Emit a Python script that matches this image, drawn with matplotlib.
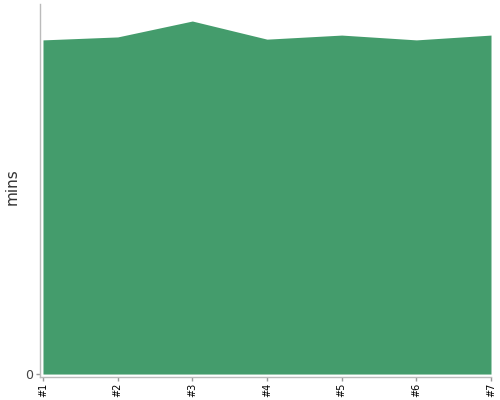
import matplotlib
matplotlib.use("Agg")
import matplotlib.pyplot as plt

labels = ["#1", "#2", "#3", "#4", "#5", "#6", "#7"]
values = [90.3, 91.1, 95.4, 90.5, 91.6, 90.3, 91.6]

fig = plt.figure(figsize=(5, 4), dpi=100)
ax = fig.add_axes([0.08, 0.0575, 0.902, 0.9325])
x = list(range(len(labels)))
ax.fill_between(x, values, 0, color="#449c6c", linewidth=0)
ax.set_xlim(-0.04, len(labels) - 1)
ax.set_ylim(-0.8, 100)
ax.set_xticks(x)
ax.set_xticklabels(labels, rotation=90, fontsize=7)
ax.set_yticks([0])
ax.set_yticklabels(["0"], fontsize=9, color="#444444")
ax.set_ylabel("mins", fontsize=11, color="#333333")
ax.yaxis.set_label_coords(-0.045, 0.51)
for s in ["top", "right"]:
    ax.spines[s].set_visible(False)
for s in ["left", "bottom"]:
    ax.spines[s].set_color("#bbbbbb")
    ax.spines[s].set_linewidth(1)
ax.tick_params(axis="both", colors="#999999", length=3, width=1)
ax.tick_params(axis="x", labelcolor="black", pad=1)
ax.tick_params(axis="y", labelcolor="#444444", pad=2)
fig.savefig("out.png", dpi=100)
